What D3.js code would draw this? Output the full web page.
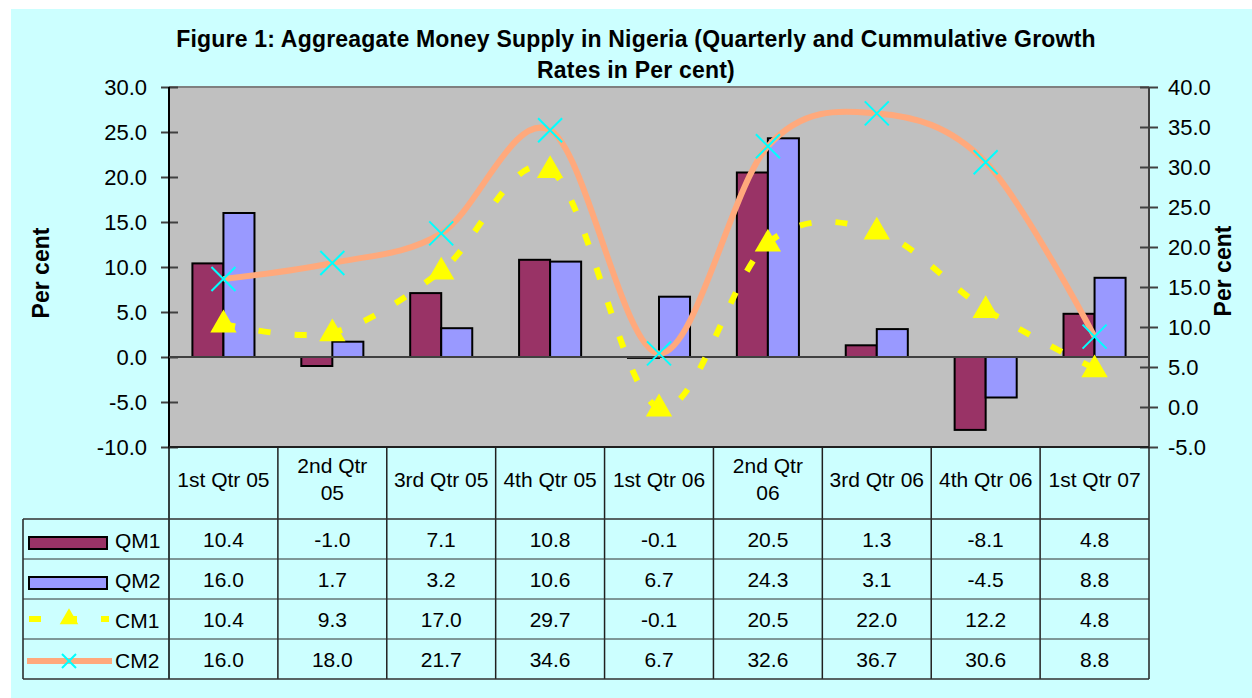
<!DOCTYPE html>
<html>
<head>
<meta charset="utf-8">
<script src="https://cdnjs.cloudflare.com/ajax/libs/d3/7.8.5/d3.min.js"></script>
<style>
  body { margin: 0; background: #fff; }
  svg { display: block; font-family: "Liberation Sans", Arial, sans-serif; }
</style>
</head>
<body>
<div id="chart"></div>
<script>
var categories = ['1st Qtr 05', '2nd Qtr 05', '3rd Qtr 05', '4th Qtr 05', '1st Qtr 06', '2nd Qtr 06', '3rd Qtr 06', '4th Qtr 06', '1st Qtr 07'];
var qm1 = [10.4, -1.0, 7.1, 10.8, -0.1, 20.5, 1.3, -8.1, 4.8];
var qm2 = [16.0, 1.7, 3.2, 10.6, 6.7, 24.3, 3.1, -4.5, 8.8];
var cm1 = [10.4, 9.3, 17.0, 29.7, -0.1, 20.5, 22.0, 12.2, 4.8];
var cm2 = [16.0, 18.0, 21.7, 34.6, 6.7, 32.6, 36.7, 30.6, 8.8];
var leftTicks = [-10, -5, 0, 5, 10, 15, 20, 25, 30];
var rightTicks = [-5, 0, 5, 10, 15, 20, 25, 30, 35, 40];
var titleLines = ['Figure 1: Aggreagate Money Supply in Nigeria (Quarterly and Cummulative Growth', 'Rates in Per cent)'];

var width = 1252, height = 698;
var plot = { left: 169, right: 1149, top: 87, bottom: 447 };

var colours = { qm1: '#993366', qm2: '#9999ff', cm1: '#ffff00', cm2: '#ffa97c', marker: '#00ffff' };

// plain hyphen for negatives, like the original
var fmt = d3.formatLocale({ decimal: '.', thousands: ',', grouping: [3], currency: ['', ''], minus: '-' }).format('.1f');

var svg = d3.select('#chart').append('svg')
  .attr('width', width)
  .attr('height', height);

// background
svg.append('rect').attr('x', 11).attr('y', 9).attr('width', width - 11).attr('height', height - 9).attr('fill', '#ccffff');
svg.append('rect').attr('x', plot.left).attr('y', plot.top)
  .attr('width', plot.right - plot.left).attr('height', plot.bottom - plot.top)
  .attr('fill', '#c0c0c0');
svg.append('line').attr('x1', plot.left).attr('x2', plot.right).attr('y1', plot.top).attr('y2', plot.top)
  .attr('stroke', '#808080').attr('stroke-width', 2);

var x = d3.scaleBand().domain(categories).range([plot.left, plot.right]).padding(0);
var yL = d3.scaleLinear().domain([-10, 30]).range([plot.bottom, plot.top]);
var yR = d3.scaleLinear().domain([-5, 40]).range([plot.bottom, plot.top]);
var bw = x.bandwidth();
var barW = bw * 0.285;
var cx = function (d, i) { return x(categories[i]) + bw / 2; };

// title
svg.append('g').selectAll('text').data(titleLines).enter().append('text')
  .attr('x', 636).attr('y', function (d, i) { return 47 + i * 31; })
  .attr('text-anchor', 'middle')
  .attr('font-size', 23).attr('font-weight', 'bold').attr('letter-spacing', 0.2)
  .text(function (d) { return d; });

// axes
var axL = svg.append('g').attr('transform', 'translate(' + plot.left + ',0)')
  .call(d3.axisLeft(yL).tickValues(leftTicks).tickFormat(fmt).tickSize(8).tickPadding(14));
axL.selectAll('line').attr('x1', 9);
var axR = svg.append('g').attr('transform', 'translate(' + plot.right + ',0)')
  .call(d3.axisRight(yR).tickValues(rightTicks).tickFormat(fmt).tickSize(9).tickPadding(10));
axR.selectAll('line').attr('x1', -9);
[axL, axR].forEach(function (a) {
  a.select('.domain').remove();
  a.selectAll('line').attr('stroke', '#404040').attr('stroke-width', 2);
  a.selectAll('text').attr('font-size', 22).attr('fill', '#000').attr('font-family', '"Liberation Sans", Arial, sans-serif');
});
svg.append('line').attr('x1', plot.left).attr('x2', plot.left).attr('y1', plot.top).attr('y2', plot.bottom)
  .attr('stroke', '#000').attr('stroke-width', 2);
svg.append('line').attr('x1', plot.right).attr('x2', plot.right).attr('y1', plot.top).attr('y2', plot.bottom)
  .attr('stroke', '#404040').attr('stroke-width', 2);

// axis titles
svg.append('text').attr('transform', 'translate(49,273) rotate(-90)')
  .attr('text-anchor', 'middle').attr('font-size', 23).attr('font-weight', 'bold').text('Per cent');
svg.append('text').attr('transform', 'translate(1231,271) rotate(-90)')
  .attr('text-anchor', 'middle').attr('font-size', 23).attr('font-weight', 'bold').text('Per cent');

// bars
svg.append('g').selectAll('rect').data(qm1).enter().append('rect')
  .attr('x', function (d, i) { return cx(d, i) - barW; })
  .attr('y', function (d) { return Math.min(yL(d), yL(0)); })
  .attr('width', barW)
  .attr('height', function (d) { return Math.abs(yL(d) - yL(0)); })
  .attr('fill', colours.qm1).attr('stroke', '#000').attr('stroke-width', 2);
svg.append('g').selectAll('rect').data(qm2).enter().append('rect')
  .attr('x', function (d, i) { return cx(d, i); })
  .attr('y', function (d) { return Math.min(yL(d), yL(0)); })
  .attr('width', barW)
  .attr('height', function (d) { return Math.abs(yL(d) - yL(0)); })
  .attr('fill', colours.qm2).attr('stroke', '#000').attr('stroke-width', 2);

// zero line
svg.append('line').attr('x1', plot.left).attr('x2', plot.right).attr('y1', yL(0)).attr('y2', yL(0))
  .attr('stroke', '#404040').attr('stroke-width', 2);

// lines
var smooth = d3.curveCardinal.tension(0);
var lineR = d3.line().x(function (d, i) { return cx(d, i); }).y(function (d) { return yR(d); }).curve(smooth);

svg.append('path').datum(cm1).attr('d', lineR)
  .attr('fill', 'none').attr('stroke', colours.cm1).attr('stroke-width', 6)
  .attr('stroke-dasharray', '12,24');
svg.append('path').datum(cm2).attr('d', lineR)
  .attr('fill', 'none').attr('stroke', colours.cm2).attr('stroke-width', 6);

var tri = d3.symbol().type(d3.symbolTriangle).size(300);
svg.append('g').selectAll('path').data(cm1).enter().append('path')
  .attr('transform', function (d, i) { return 'translate(' + cx(d, i) + ',' + (yR(d) + 1) + ')'; })
  .attr('d', tri).attr('fill', colours.cm1);

var cross = 'M-12,-12L12,12M-12,12L12,-12';
svg.append('g').selectAll('path').data(cm2).enter().append('path')
  .attr('transform', function (d, i) { return 'translate(' + cx(d, i) + ',' + yR(d) + ')'; })
  .attr('d', cross).attr('stroke', colours.marker).attr('stroke-width', 2).attr('fill', 'none');

// data table
var tableLeft = 23, headerBottom = 519, rowH = 40;
var rows = [
  { name: 'QM1', values: qm1 },
  { name: 'QM2', values: qm2 },
  { name: 'CM1', values: cm1 },
  { name: 'CM2', values: cm2 }
];
var tableBottom = headerBottom + rows.length * rowH;
var tbl = svg.append('g');

// header labels (wrap when too wide)
categories.forEach(function (c, i) {
  var t = tbl.append('text').attr('text-anchor', 'middle').attr('font-size', 21)
    .attr('x', x(c) + bw / 2).attr('y', 487).text(c);
  if (t.node().getComputedTextLength() > 97) {
    var words = c.split(' ');
    t.text(null);
    t.append('tspan').attr('x', x(c) + bw / 2).attr('y', 473).text(words.slice(0, -1).join(' '));
    t.append('tspan').attr('x', x(c) + bw / 2).attr('y', 500).text(words[words.length - 1]);
  }
});

rows.forEach(function (r, j) {
  var top = headerBottom + j * rowH;
  tbl.selectAll(null).data(r.values).enter().append('text')
    .attr('text-anchor', 'middle').attr('font-size', 21)
    .attr('x', function (d, i) { return cx(d, i); })
    .attr('y', top + 28)
    .text(function (d) { return fmt(d); });
  tbl.append('text').attr('x', 115).attr('y', top + 29).attr('font-size', 21).text(r.name);
});

// grid lines
var bounds = categories.map(function (c) { return x(c); }).concat([plot.right]);
tbl.selectAll('line.v').data(bounds).enter().append('line')
  .attr('x1', function (d) { return d; }).attr('x2', function (d) { return d; })
  .attr('y1', plot.bottom).attr('y2', tableBottom)
  .attr('stroke', function (d, i) { return i === 0 ? '#000' : '#202020'; }).attr('stroke-width', 1.5);
tbl.append('line').attr('x1', tableLeft).attr('x2', tableLeft).attr('y1', headerBottom).attr('y2', tableBottom)
  .attr('stroke', '#202020').attr('stroke-width', 1.5);
tbl.append('line').attr('x1', plot.left).attr('x2', plot.right).attr('y1', plot.bottom).attr('y2', plot.bottom)
  .attr('stroke', '#202020').attr('stroke-width', 2);
d3.range(rows.length + 1).forEach(function (j) {
  tbl.append('line').attr('x1', tableLeft).attr('x2', plot.right)
    .attr('y1', headerBottom + j * rowH).attr('y2', headerBottom + j * rowH)
    .attr('stroke', '#303030').attr('stroke-width', (j === 0 || j === rows.length) ? 1.5 : 1);
});

// legend keys
var key = tbl.append('g');
key.append('rect').attr('x', 29).attr('y', headerBottom + 18).attr('width', 78).attr('height', 12)
  .attr('fill', colours.qm1).attr('stroke', '#000').attr('stroke-width', 2);
key.append('rect').attr('x', 29).attr('y', headerBottom + rowH + 18).attr('width', 78).attr('height', 12)
  .attr('fill', colours.qm2).attr('stroke', '#000').attr('stroke-width', 2);
var cm1Y = headerBottom + 2 * rowH + 20;
key.append('line').attr('x1', 29).attr('x2', 109).attr('y1', cm1Y).attr('y2', cm1Y)
  .attr('stroke', colours.cm1).attr('stroke-width', 6).attr('stroke-dasharray', '12,24');
key.append('path').attr('transform', 'translate(69,' + cm1Y + ')')
  .attr('d', d3.symbol().type(d3.symbolTriangle).size(150)).attr('fill', colours.cm1);
var cm2Y = headerBottom + 3 * rowH + 22;
key.append('line').attr('x1', 27).attr('x2', 112).attr('y1', cm2Y).attr('y2', cm2Y)
  .attr('stroke', colours.cm2).attr('stroke-width', 6);
key.append('path').attr('transform', 'translate(69,' + cm2Y + ')')
  .attr('d', 'M-7,-7L7,7M-7,7L7,-7').attr('stroke', colours.marker).attr('stroke-width', 2);
</script>
</body>
</html>
